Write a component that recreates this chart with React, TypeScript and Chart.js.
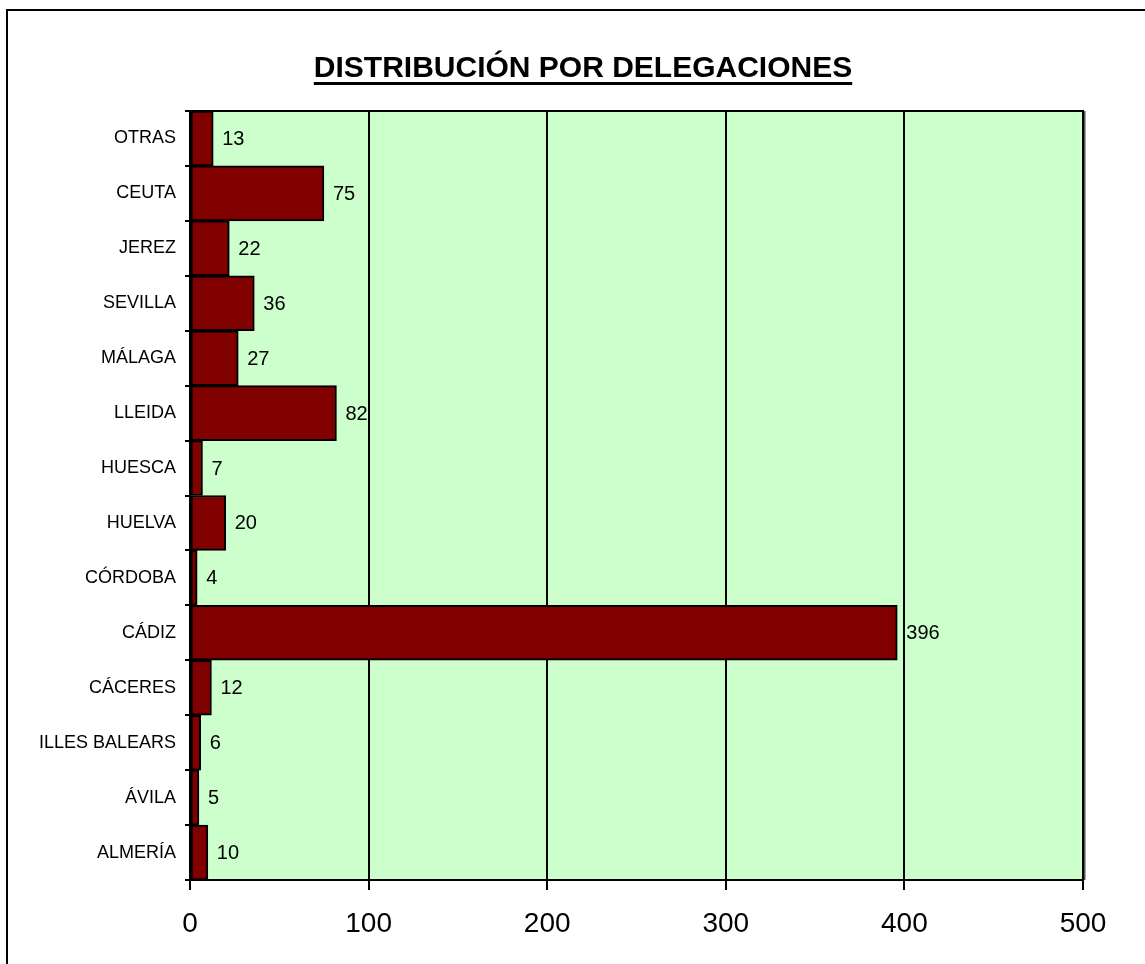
import React, { useEffect, useRef } from "react";
import { Chart, registerables } from "chart.js";

Chart.register(...registerables);

const TITLE = "DISTRIBUCIÓN POR DELEGACIONES";
const categories = [
  "OTRAS",
  "CEUTA",
  "JEREZ",
  "SEVILLA",
  "MÁLAGA",
  "LLEIDA",
  "HUESCA",
  "HUELVA",
  "CÓRDOBA",
  "CÁDIZ",
  "CÁCERES",
  "ILLES BALEARS",
  "ÁVILA",
  "ALMERÍA",
];
const values = [13, 75, 22, 36, 27, 82, 7, 20, 4, 396, 12, 6, 5, 10];
const xTicks = [0, 100, 200, 300, 400, 500];

const FONT = "Arial, 'Liberation Sans', sans-serif";

export default function App() {
  const ref = useRef<HTMLCanvasElement | null>(null);

  useEffect(() => {
    if (!ref.current) return;
    const bgPlugin = {
      id: "bgPlugin",
      beforeDraw(chart: any) {
        const { ctx, chartArea: a } = chart;
        ctx.save();
        ctx.fillStyle = "#ffffff";
        ctx.fillRect(0, 0, chart.width, chart.height);
        ctx.fillStyle = "#CCFFCC";
        ctx.fillRect(a.left, a.top, a.right - a.left, a.bottom - a.top);
        // outer frame
        ctx.strokeStyle = "#000";
        ctx.lineWidth = 2;
        ctx.beginPath();
        ctx.moveTo(7, chart.height);
        ctx.lineTo(7, 10);
        ctx.lineTo(chart.width, 10);
        ctx.stroke();
        // title
        ctx.fillStyle = "#000";
        ctx.font = `bold 30px ${FONT}`;
        ctx.textAlign = "center";
        ctx.textBaseline = "alphabetic";
        const cx = 583;
        ctx.fillText(TITLE, cx, 77);
        const w = ctx.measureText(TITLE).width;
        ctx.fillRect(cx - w / 2, 82, w, 3);
        ctx.restore();
      },
      afterDraw(chart: any) {
        const { ctx, chartArea: a } = chart;
        ctx.save();
        ctx.strokeStyle = "#000";
        ctx.lineWidth = 2;
        ctx.strokeRect(a.left, a.top, a.right - a.left, a.bottom - a.top);
        ctx.fillStyle = "#555";
        ctx.fillRect(a.right + 1, a.top, 1.5, a.bottom - a.top);
        // value labels
        const meta = chart.getDatasetMeta(0);
        ctx.fillStyle = "#000";
        ctx.font = `20px ${FONT}`;
        ctx.textAlign = "left";
        ctx.textBaseline = "middle";
        meta.data.forEach((bar: any, i: number) => {
          ctx.fillText(String(values[i]), bar.x + 9, bar.y + 1);
        });
        ctx.restore();
      },
    };

    const chart = new Chart(ref.current, {
      type: "bar",
      data: {
        labels: categories,
        datasets: [
          {
            data: values,
            backgroundColor: "#800000",
            borderColor: "#000000",
            borderWidth: 2,
            borderSkipped: false,
            categoryPercentage: 1,
            barPercentage: 1,
          },
        ],
      },
      options: {
        indexAxis: "y",
        responsive: false,
        animation: false,
        layout: { padding: { left: 0, top: 111, right: 62, bottom: 0 } },
        plugins: {
          legend: { display: false },
          title: { display: false },
          tooltip: { enabled: false },
        },
        scales: {
          x: {
            type: "linear",
            min: 0,
            max: 500,
            afterFit(scale: any) {
              scale.height = 84;
            },
            afterBuildTicks(scale: any) {
              scale.ticks = xTicks.map((v) => ({ value: v }));
            },
            ticks: {
              color: "#000",
              font: { family: FONT, size: 28 },
              padding: 17,
              maxRotation: 0,
            },
            grid: {
              color: "#000",
              lineWidth: 2,
              tickLength: 10,
              drawOnChartArea: true,
              drawTicks: true,
            },
            border: { color: "#000", width: 2 },
          },
          y: {
            type: "category",
            afterFit(scale: any) {
              scale.width = 190;
            },
            ticks: {
              color: "#000",
              font: { family: FONT, size: 18 },
              padding: 9,
              autoSkip: false,
            },
            grid: {
              offset: true,
              color: "#000",
              lineWidth: 2,
              tickLength: 5,
              drawOnChartArea: false,
              drawTicks: true,
            },
            border: { color: "#000", width: 2 },
          },
        },
      },
      plugins: [bgPlugin],
    });
    return () => chart.destroy();
  }, []);

  return (
    <div style={{ position: "absolute", left: 0, top: 0, width: 1145, height: 964, background: "#fff" }}>
      <canvas ref={ref} width={1145} height={964} style={{ display: "block", width: 1145, height: 964 }} />
    </div>
  );
}
